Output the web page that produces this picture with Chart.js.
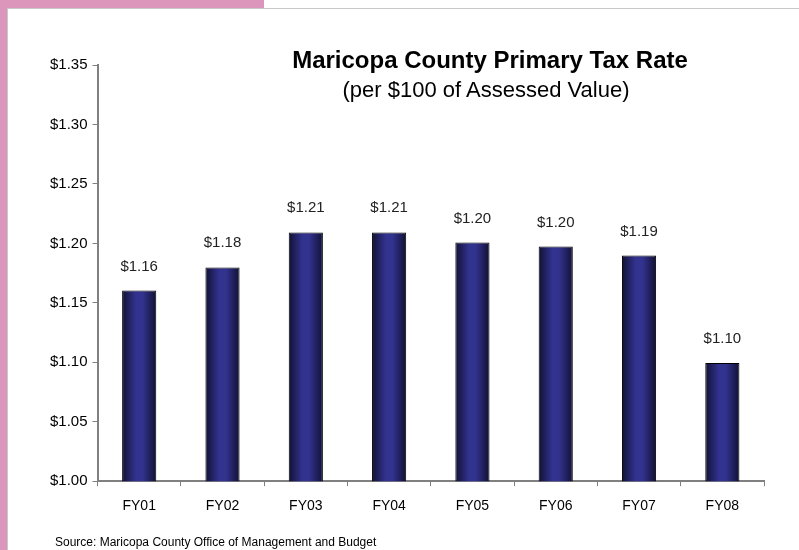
<!DOCTYPE html>
<html>
<head>
<meta charset="utf-8">
<script src="https://cdn.jsdelivr.net/npm/chart.js@4/dist/chart.umd.min.js"></script>
<style>
    html, body { margin: 0; padding: 0; background: #fff; }
    #wrap { position: relative; width: 799px; height: 550px; overflow: hidden; font-family: 'Liberation Sans', Arial, sans-serif; }
    #wrap canvas { position: absolute; left: 0; top: 0; }
    .strip { position: absolute; background: #dd96bb; }
    .rule { position: absolute; background: #c8c8c8; }
    .txt { position: absolute; white-space: nowrap; color: #000; }
</style>
</head>
<body>
<div id="wrap">
    <div class="strip" style="left:0;top:0;width:7px;height:550px"></div>
    <div class="strip" style="left:0;top:0;width:264px;height:8px"></div>
    <div class="rule" style="left:7px;top:8px;width:792px;height:1px"></div>
    <div class="rule" style="left:7px;top:8px;width:1px;height:542px"></div>
    <canvas id="taxChart" width="799" height="550"></canvas>
    <div class="txt" style="left:265px;width:450px;text-align:center;top:48px;font-size:24px;line-height:24px;font-weight:bold">Maricopa County Primary Tax Rate</div>
    <div class="txt" style="left:261px;width:450px;text-align:center;top:79px;font-size:22px;line-height:22px">(per $100 of Assessed Value)</div>
    <div class="txt" style="left:55px;top:536px;font-size:12px;line-height:12px">Source: Maricopa County Office of Management and Budget</div>
</div>
<script>
// Data
const years = ['FY01', 'FY02', 'FY03', 'FY04', 'FY05', 'FY06', 'FY07', 'FY08'];
const taxRates = [1.1603, 1.1798, 1.2092, 1.2092, 1.2007, 1.1973, 1.1898, 1.0995];
const yTicks = [1.00, 1.05, 1.10, 1.15, 1.20, 1.25, 1.30, 1.35];

const FONT = "'Liberation Sans', Arial, sans-serif";
const BAR_PCT = 0.41;

// horizontal gradient so bars look like cylinders
function barGradient(context) {
    const chart = context.chart;
    const xScale = chart.scales.x;
    if (!xScale || context.dataIndex === undefined) return '#30308c';
    const cx = xScale.getPixelForValue(context.dataIndex);
    const half = xScale.width / years.length * BAR_PCT / 2;
    if (!isFinite(cx) || !isFinite(half) || half <= 0) return '#30308c';
    const g = chart.ctx.createLinearGradient(cx - half, 0, cx + half, 0);
    g.addColorStop(0, '#111134');
    g.addColorStop(0.4, '#32328f');
    g.addColorStop(0.6, '#32328f');
    g.addColorStop(1, '#111134');
    return g;
}

// value labels above each bar
const valueLabels = {
    id: 'valueLabels',
    afterDatasetsDraw(chart) {
        const ctx = chart.ctx;
        const meta = chart.getDatasetMeta(0);
        ctx.save();
        ctx.font = '15px ' + FONT;
        ctx.fillStyle = '#222';
        ctx.textAlign = 'center';
        ctx.textBaseline = 'alphabetic';
        meta.data.forEach((bar, i) => {
            ctx.fillText('$' + taxRates[i].toFixed(2), bar.x, bar.y - 20);
        });
        ctx.restore();
    }
};

const ctx = document.getElementById('taxChart').getContext('2d');
new Chart(ctx, {
    type: 'bar',
    data: {
        labels: years,
        datasets: [{
            data: taxRates,
            backgroundColor: barGradient,
            borderColor: '#000',
            borderWidth: 1,
            barPercentage: BAR_PCT,
            categoryPercentage: 1
        }]
    },
    options: {
        responsive: false,
        animation: false,
        events: [],
        layout: {
            padding: { left: 45, right: 35, top: 65, bottom: 23 }
        },
        plugins: {
            legend: { display: false },
            title: { display: false },
            tooltip: { enabled: false }
        },
        scales: {
            x: {
                grid: {
                    display: true,
                    drawOnChartArea: false,
                    drawTicks: true,
                    tickLength: 5,
                    color: '#808080'
                },
                border: { display: true, color: '#808080', width: 2 },
                ticks: {
                    color: '#000',
                    padding: 12,
                    font: { family: FONT, size: 14 }
                }
            },
            y: {
                min: 1.0,
                max: 1.35,
                afterBuildTicks(axis) {
                    axis.ticks = yTicks.map(v => ({ value: v }));
                },
                grid: {
                    display: true,
                    drawOnChartArea: false,
                    drawTicks: true,
                    tickLength: 5,
                    color: '#808080'
                },
                border: { display: true, color: '#808080', width: 2 },
                ticks: {
                    color: '#000',
                    padding: 5,
                    font: { family: FONT, size: 15 },
                    callback: v => '$' + Number(v).toFixed(2)
                }
            }
        }
    },
    plugins: [valueLabels]
});
</script>
</body>
</html>
